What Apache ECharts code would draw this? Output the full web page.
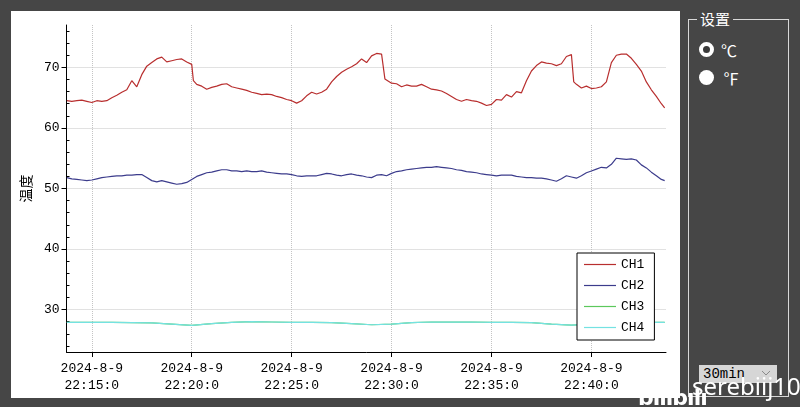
<!DOCTYPE html>
<html>
<head>
<meta charset="utf-8">
<script src="https://cdn.jsdelivr.net/npm/echarts@6/dist/echarts.min.js"></script>
<style>
    html, body { margin: 0; padding: 0; width: 800px; height: 407px; overflow: hidden; background: #464646; }
    #chart { position: absolute; left: 11px; top: 11px; width: 669px; height: 387px; background: #fff; }
    .group { position: absolute; left: 688px; top: 19px; width: 99px; height: 376px; border: 1px solid #d8d8d8; }
    .groupTitle { position: absolute; left: 697px; top: 8px; padding: 0 3px; background: #464646; color: #fff; font: 15px/22px 'Noto Sans CJK SC'; }
    .radio { position: absolute; width: 15px; height: 15px; border-radius: 50%; box-sizing: border-box; }
    .radio.on { left: 699px; top: 42px; border: 4px solid #fff; background: #3a3a3a; }
    .radio.off { left: 699px; top: 70px; background: #fff; }
    .unit { position: absolute; color: #fff; font: 16px/20px 'Noto Sans CJK SC'; }
    .combo { position: absolute; left: 699px; top: 365px; width: 78px; height: 18px; background: #d6d6d6; }
    .combo span { position: absolute; left: 4px; top: 0; font: 14px/18px 'Liberation Mono'; color: #000; }
    .combo svg { position: absolute; right: 6px; top: 5px; }
    .mark { position: absolute; left: 692px; top: 374px; color: #fff; font: 24px/24px 'Noto Sans'; white-space: nowrap; }
    .logo { position: absolute; left: 638px; top: 386px; color: #fff; font: bold 22px/24px 'DejaVu Sans'; letter-spacing: -1px; white-space: nowrap; }
</style>
</head>
<body>
<div id="chart"></div>
<div class="group"></div>
<div class="groupTitle">设置</div>
<div class="radio on"></div>
<div class="unit" style="left:721px;top:40px">℃</div>
<div class="radio off"></div>
<div class="unit" style="left:723px;top:68px">℉</div>
<div class="combo"><span>30min</span><svg width="10" height="7"><polyline points="1,1 5,5 9,1" fill="none" stroke="#8a8a8a" stroke-width="1"/></svg></div>
<div class="logo">bılıbılı</div>
<div class="mark">serebiij10</div>
<script>
    // 时间轴范围和刻度
    const day = '2024-08-09';
    const xRange = ['22:13:44', '22:43:44'];
    const xTickTimes = ['22:15:00', '22:20:00', '22:25:00', '22:30:00', '22:35:00', '22:40:00'];
    const yRange = [23, 77];
    const yTickValues = [30, 40, 50, 60, 70];
    const yMinorValues = [24, 26, 28, 32, 34, 36, 38, 42, 44, 46, 48, 52, 54, 56, 58, 62, 64, 66, 68, 72, 74, 76];
    const channelNames = ['CH1', 'CH2', 'CH3', 'CH4'];

    // 采样时间
    const fineTimes = [
        '22:13:45', '22:14:00', '22:14:15', '22:14:30', '22:14:45',
        '22:15:00', '22:15:15', '22:15:30', '22:15:45',
        '22:16:00', '22:16:15', '22:16:30', '22:16:45',
        '22:17:00', '22:17:15', '22:17:30', '22:17:45',
        '22:18:00', '22:18:15', '22:18:30', '22:18:45',
        '22:19:00', '22:19:15', '22:19:30', '22:19:45',
        '22:20:00', '22:20:15', '22:20:30', '22:20:45',
        '22:21:00', '22:21:15', '22:21:30', '22:21:45',
        '22:22:00', '22:22:15', '22:22:30', '22:22:45',
        '22:23:00', '22:23:15', '22:23:30', '22:23:45',
        '22:24:00', '22:24:15', '22:24:30', '22:24:45',
        '22:25:00', '22:25:15', '22:25:30', '22:25:45',
        '22:26:00', '22:26:15', '22:26:30', '22:26:45',
        '22:27:00', '22:27:15', '22:27:30', '22:27:45',
        '22:28:00', '22:28:15', '22:28:30', '22:28:45',
        '22:29:00', '22:29:15', '22:29:30', '22:29:45',
        '22:30:00', '22:30:15', '22:30:30', '22:30:45',
        '22:31:00', '22:31:15', '22:31:30', '22:31:45',
        '22:32:00', '22:32:15', '22:32:30', '22:32:45',
        '22:33:00', '22:33:15', '22:33:30', '22:33:45',
        '22:34:00', '22:34:15', '22:34:30', '22:34:45',
        '22:35:00', '22:35:15', '22:35:30', '22:35:45',
        '22:36:00', '22:36:15', '22:36:30', '22:36:45',
        '22:37:00', '22:37:15', '22:37:30', '22:37:45',
        '22:38:00', '22:38:15', '22:38:30', '22:38:45',
        '22:39:00', '22:39:15', '22:39:30', '22:39:45',
        '22:40:00', '22:40:15', '22:40:30', '22:40:45',
        '22:41:00', '22:41:15', '22:41:30', '22:41:45',
        '22:42:00', '22:42:15', '22:42:30', '22:42:45',
        '22:43:00', '22:43:15', '22:43:30', '22:43:40'
    ];
    const ch1Values = [
        64.5, 64.4, 64.5, 64.6, 64.4,
        64.2, 64.5, 64.4, 64.5,
        65.0, 65.4, 65.9, 66.3,
        67.8, 66.8, 68.8, 70.2,
        70.8, 71.4, 71.7, 70.9,
        71.1, 71.3, 71.4, 70.9,
        70.5, 67.2, 66.9, 66.4,
        66.7, 66.9, 67.2, 67.3,
        66.8, 66.6, 66.4, 66.2,
        65.9, 65.7, 65.5, 65.6,
        65.5, 65.2, 65.0, 64.7,
        64.5, 64.1, 64.5, 65.3,
        65.9, 65.6, 65.9, 66.4,
        67.6, 68.5, 69.2, 69.7,
        70.1, 70.6, 71.4, 70.8,
        71.9, 72.3, 72.2, 67.8,
        67.4, 67.3, 66.8, 67.1,
        66.9, 66.9, 67.2, 66.8,
        66.4, 66.3, 66.1, 65.7,
        65.2, 64.7, 64.4, 64.7,
        64.5, 64.4, 64.1, 63.7,
        63.9, 64.7, 64.6, 65.5,
        65.1, 66.0, 65.8, 67.8,
        69.4, 70.3, 70.9, 70.7,
        70.6, 70.3, 70.6, 71.8,
        72.1, 67.2, 66.6, 66.9,
        66.5, 66.6, 66.8, 67.6,
        70.8, 72.0, 72.2, 72.2,
        71.5, 70.5, 69.4, 67.6,
        66.3, 65.2, 64.0, 63.3
    ];
    // CH1 几处陡降的点
    const ch1StepTimes = ['22:20:05', '22:29:40', '22:39:07'];
    const ch1StepValues = [67.8, 68.1, 67.6];

    const ch2Values = [
        51.8, 51.6, 51.5, 51.4, 51.3,
        51.4, 51.6, 51.8, 51.9,
        52.0, 52.1, 52.1, 52.2,
        52.2, 52.3, 52.3, 51.8,
        51.3, 51.1, 51.3, 51.1,
        50.9, 50.7, 50.8, 51.0,
        51.5, 52.0, 52.3, 52.6,
        52.7, 52.9, 53.1, 53.1,
        52.9, 52.9, 52.8, 52.9,
        52.8, 52.8, 52.9, 52.7,
        52.6, 52.5, 52.4, 52.4,
        52.3, 52.1, 52.0, 52.1,
        52.1, 52.1, 52.3, 52.5,
        52.4, 52.2, 52.1, 52.3,
        52.4, 52.2, 52.1, 51.9,
        51.8, 52.2, 52.3, 52.1,
        52.5, 52.8, 52.9, 53.1,
        53.2, 53.3, 53.4, 53.5,
        53.5, 53.6, 53.5, 53.4,
        53.3, 53.1, 53.0, 52.8,
        52.7, 52.6, 52.4, 52.3,
        52.2, 52.1, 52.2, 52.2,
        52.2, 52.0, 51.9, 51.8,
        51.8, 51.7, 51.7, 51.6,
        51.4, 51.2, 51.6, 52.1,
        51.9, 51.7, 52.1, 52.6,
        52.9, 53.2, 53.5, 53.4,
        54.0, 55.0, 54.9, 54.8,
        54.9, 54.7, 53.9, 53.4,
        52.7, 52.1, 51.5, 51.3
    ];

    // CH3/CH4 变化很慢，按分钟取点
    const coarseTimes = [
        '22:13:45', '22:14:00', '22:15:00', '22:16:00', '22:17:00', '22:18:00', '22:19:00', '22:20:00',
        '22:21:00', '22:22:00', '22:23:00', '22:24:00', '22:25:00', '22:26:00', '22:27:00', '22:28:00',
        '22:29:00', '22:30:00', '22:31:00', '22:32:00', '22:33:00', '22:34:00', '22:35:00', '22:36:00',
        '22:37:00', '22:38:00', '22:39:00', '22:40:00', '22:41:00', '22:42:00', '22:43:00', '22:43:40'
    ];
    const ch3Values = [
        27.9, 27.9, 27.9, 27.9, 27.85, 27.8, 27.6, 27.4,
        27.7, 27.9, 28.0, 27.95, 27.9, 27.9, 27.85, 27.7,
        27.5, 27.6, 27.85, 27.95, 27.95, 27.95, 27.9, 27.9,
        27.85, 27.6, 27.45, 27.6, 27.8, 27.9, 27.9, 27.9
    ];
    const ch4Values = [
        27.9, 27.9, 27.9, 27.9, 27.85, 27.8, 27.6, 27.4,
        27.7, 27.9, 28.0, 27.95, 27.9, 27.9, 27.85, 27.7,
        27.5, 27.6, 27.85, 27.95, 27.95, 27.95, 27.9, 27.9,
        27.85, 27.6, 27.45, 27.6, 27.8, 27.9, 27.9, 27.9
    ];

    const lineColors = ['#b82e2e', '#3c3c8c', '#5cc85c', '#74e2e2'];

    function ts(t) {
        return new Date(day + 'T' + t).getTime();
    }
    function pairs(times, vals) {
        return times.map(function (t, i) { return [ts(t), vals[i]]; });
    }
    function timeLabel(v) {
        var d = new Date(v);
        return d.getFullYear() + '-' + (d.getMonth() + 1) + '-' + d.getDate() + '\n' +
            d.getHours() + ':' + d.getMinutes() + ':' + d.getSeconds();
    }

    const ch1Points = pairs(fineTimes, ch1Values).concat(pairs(ch1StepTimes, ch1StepValues));
    ch1Points.sort(function (a, b) { return a[0] - b[0]; });

    const seriesData = [
        ch1Points,
        pairs(fineTimes, ch2Values),
        pairs(coarseTimes, ch3Values),
        pairs(coarseTimes, ch4Values)
    ];

    const monoText = { color: '#000', fontFamily: 'Liberation Mono', fontSize: 13 };
    const gridLine = { show: true, lineStyle: { type: 'dotted', color: '#c4c4c4', width: 1 } };

    const chart = echarts.init(document.getElementById('chart'), null, { renderer: 'canvas' });
    chart.setOption({
        animation: false,
        backgroundColor: '#fff',
        grid: { left: 52, right: 14, top: 14, bottom: 46 },
        legend: {
            orient: 'vertical',
            left: 566,
            top: 242,
            data: channelNames,
            // 图例只画一条细线
            icon: 'path://M0,0H32V1.2H0Z',
            itemWidth: 32,
            itemHeight: 14,
            itemGap: 8,
            padding: [5, 10, 6, 7],
            backgroundColor: '#fff',
            borderColor: '#000',
            borderWidth: 1,
            borderRadius: 0,
            textStyle: monoText
        },
        // 时间戳当数值轴用，刻度位置自己给
        xAxis: {
            type: 'value',
            min: ts(xRange[0]),
            max: ts(xRange[1]),
            axisLine: { lineStyle: { color: '#000', width: 1 } },
            axisTick: { show: true, inside: false, length: 5, lineStyle: { color: '#000' }, customValues: xTickTimes.map(ts) },
            axisLabel: Object.assign({ customValues: xTickTimes.map(ts), formatter: timeLabel, lineHeight: 17, margin: 8, hideOverlap: false }, monoText),
            splitLine: gridLine
        },
        yAxis: [{
            type: 'value',
            min: yRange[0],
            max: yRange[1],
            name: '温度',
            nameLocation: 'middle',
            nameRotate: 90,
            nameGap: 32,
            nameTextStyle: { color: '#000', fontSize: 14, fontFamily: 'Noto Sans CJK SC' },
            axisLine: { show: true, lineStyle: { color: '#000', width: 1 } },
            axisTick: { show: true, inside: false, length: 5, lineStyle: { color: '#000' }, customValues: yTickValues },
            axisLabel: Object.assign({ customValues: yTickValues, margin: 7 }, monoText),
            splitLine: gridLine
        }, {
            type: 'value',
            min: yRange[0],
            max: yRange[1],
            position: 'left',
            axisLine: { show: false },
            axisTick: { show: true, inside: true, length: 3, lineStyle: { color: '#000' }, customValues: yMinorValues },
            axisLabel: { show: false },
            splitLine: { show: false }
        }],
        series: channelNames.map(function (name, i) {
            return {
                name: name,
                type: 'line',
                yAxisIndex: 0,
                data: seriesData[i],
                symbol: 'none',
                showSymbol: false,
                color: lineColors[i],
                lineStyle: { color: lineColors[i], width: 1.2 }
            };
        })
    });
</script>
</body>
</html>
